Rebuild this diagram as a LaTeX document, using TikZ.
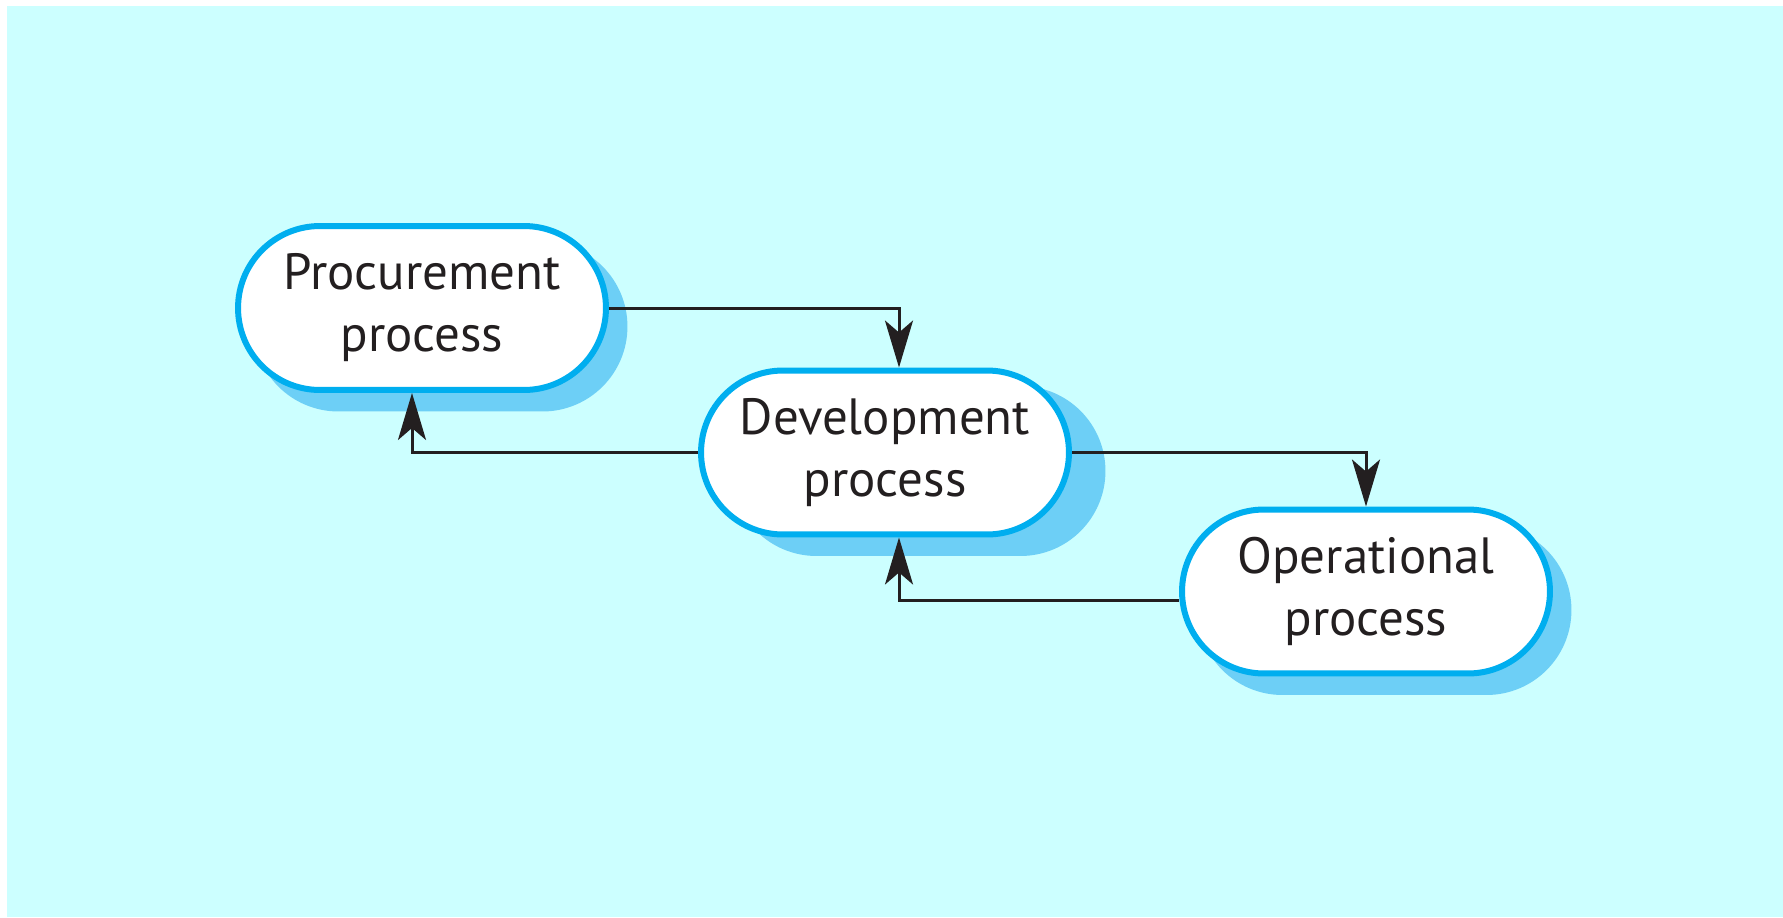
\documentclass[tikz,border=0pt]{standalone}
\usepackage{fontspec}
\setmainfont{PT Sans}
\usetikzlibrary{arrows.meta,shadows}
\definecolor{bgc}{HTML}{CCFFFF}
\definecolor{borderc}{HTML}{00AEEF}
\definecolor{shadowc}{HTML}{6DCFF6}
\definecolor{inkc}{HTML}{231F20}
\tikzset{
  proc/.style={rectangle, draw=borderc, fill=white, line width=0.12cm,
    minimum width=7.36cm, minimum height=3.28cm, rounded corners=1.64cm,
    inner sep=0pt, align=center, text=inkc,
    font=\fontsize{29}{35.3}\selectfont},
  shad/.style={general shadow={fill=shadowc, draw=shadowc, shadow xshift=#1, shadow yshift=-0.37cm}},
  shad/.default=0.37cm,
  conn/.style={draw=inkc, line width=0.06cm,
    -{Stealth[length=0.94cm, width=0.56cm, inset=0.24cm]}}
}
\begin{document}
\begin{tikzpicture}[x=0.02cm, y=-0.02cm]
  \useasboundingbox (0,0) rectangle (1783,917);
  \fill[white] (0,0) rectangle (1783,917);
  \fill[bgc] (7,6) rectangle (1783,917);
  \node[proc, shad] (P) at (422,308) {Procurement\\process};
  \node[proc, shad=0.67cm] (D) at (885,452.5) {Development\\process};
  \node[proc, shad] (O) at (1366,591.5) {Operational\\process};
  \draw[conn] (P.east) -| ([xshift=0.28cm]D.north);
  \draw[conn] (D.west) -| ([xshift=-0.2cm]P.south);
  \draw[conn] (D.east) -| (O.north);
  \draw[conn] ([yshift=-0.18cm]O.west) -| ([xshift=0.28cm]D.south);
\end{tikzpicture}
\end{document}
